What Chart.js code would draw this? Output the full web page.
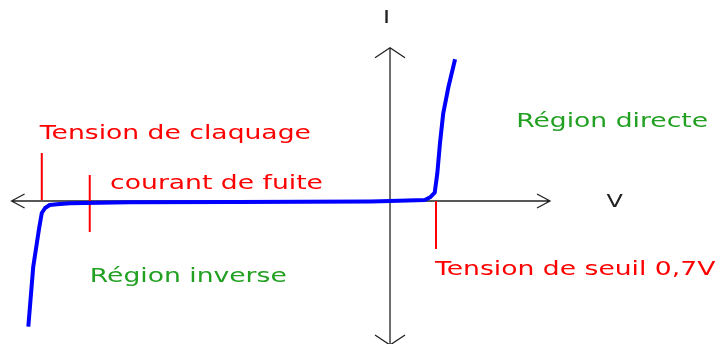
<!DOCTYPE html>
<html><head><meta charset="utf-8">
<script src="https://cdn.jsdelivr.net/npm/chart.js@4/dist/chart.umd.min.js"></script>
<style>html,body{margin:0;padding:0;background:#fff}#wrap{width:723px;height:344px;position:relative}</style>
</head><body><div id="wrap"><canvas id="c"></canvas></div>
<script>
// Diode I-V characteristic (V in volts, I in arbitrary mA units)
const voltage = [-5.505, -5.43, -5.34, -5.30, -5.25, -5.18, -5.07, -4.87, -3.96, -2.33, -0.30, 0, 0.53, 0.61, 0.68, 0.72, 0.76, 0.81, 0.89, 0.99];
const current = [-12.57, -6.57, -2.7, -1.2, -0.7, -0.4, -0.33, -0.23, -0.13, -0.1, -0.05, 0, 0.1, 0.37, 0.83, 2.77, 5.77, 8.77, 11.43, 14.17];

// Visible window
const xRange = [-5.936, 5.068];
const yRange = [-14.3, 20.1];

// Axis arrows extents
const hAxis = [-5.76, 2.435];
const vAxis = [-14.4, 15.33];

// Red marker lines: breakdown, leakage, threshold
const markerV = [-5.30, -4.57, 0.70];
const markerFrom = [4.8, 2.6, 0];
const markerTo = [0.1, -3.1, -4.8];

// Annotations
const labelText = ["Tension de claquage", "courant de fuite", "Région inverse", "Région directe", "Tension de seuil 0,7V", "I", "V"];
const labelV = [-5.33, -4.26, -4.57, 1.92, 0.685, -0.053, 3.42];
const labelI = [6.2, 1.2, -8.1, 7.4, -7.4, 17.8, -0.6];
const labelColor = ["#ff0000", "#ff0000", "#22a022", "#22a022", "#ff0000", "#222222", "#222222"];
const labelAlign = ["left", "left", "left", "left", "left", "center", "center"];
const labelSize = [20, 20, 20, 20, 20, 18, 18];

const curve = voltage.map((v, i) => ({x: v, y: current[i]}));
const markerSets = markerV.map((v, i) => ({
  data: [{x: v, y: markerFrom[i]}, {x: v, y: markerTo[i]}],
  borderColor: '#ff0000', borderWidth: 2, pointRadius: 0, showLine: true, order: 2
}));

const axesPlugin = {
  id: 'axesArrows',
  beforeDatasetsDraw(chart) {
    const {ctx, scales: {x, y}} = chart;
    ctx.save();
    ctx.strokeStyle = '#222';
    ctx.lineWidth = 1.3;
    const y0 = y.getPixelForValue(0), x0 = x.getPixelForValue(0);
    const xl = x.getPixelForValue(hAxis[0]), xr = x.getPixelForValue(hAxis[1]);
    const yt = y.getPixelForValue(vAxis[1]), yb = y.getPixelForValue(vAxis[0]);
    ctx.beginPath();
    ctx.moveTo(xl, y0); ctx.lineTo(xr, y0);
    ctx.moveTo(x0, yt); ctx.lineTo(x0, yb);
    // arrowheads
    const a = 13, w = 7;
    ctx.moveTo(xl + a, y0 - w); ctx.lineTo(xl, y0); ctx.lineTo(xl + a, y0 + w);
    ctx.moveTo(xr - a, y0 - w); ctx.lineTo(xr, y0); ctx.lineTo(xr - a, y0 + w);
    ctx.moveTo(x0 - 15, yt + 10); ctx.lineTo(x0, yt); ctx.lineTo(x0 + 15, yt + 10);
    ctx.moveTo(x0 - 15, yb - 10); ctx.lineTo(x0, yb); ctx.lineTo(x0 + 15, yb - 10);
    ctx.stroke();
    ctx.restore();
  },
  afterDraw(chart) {
    const {ctx, scales: {x, y}} = chart;
    labelText.forEach((t, i) => {
      ctx.save();
      ctx.translate(x.getPixelForValue(labelV[i]), y.getPixelForValue(labelI[i]));
      ctx.scale(1.33, 1);
      ctx.font = labelSize[i] + 'px "DejaVu Sans"';
      ctx.fillStyle = labelColor[i];
      ctx.textAlign = labelAlign[i];
      ctx.textBaseline = 'alphabetic';
      ctx.fillText(t, 0, 0);
      ctx.restore();
    });
  }
};

new Chart(document.getElementById('c'), {
  type: 'scatter',
  data: {
    datasets: [
      {data: curve, borderColor: '#0000ff', borderWidth: 4, pointRadius: 0, showLine: true, tension: 0, order: 1, borderJoinStyle: 'round'},
      ...markerSets
    ]
  },
  options: {
    responsive: true, maintainAspectRatio: false, animation: false,
    layout: {padding: 0},
    plugins: {legend: {display: false}, tooltip: {enabled: false}},
    scales: {
      x: {type: 'linear', display: false, min: xRange[0], max: xRange[1]},
      y: {type: 'linear', display: false, min: yRange[0], max: yRange[1]}
    }
  },
  plugins: [axesPlugin]
});
</script></body></html>
